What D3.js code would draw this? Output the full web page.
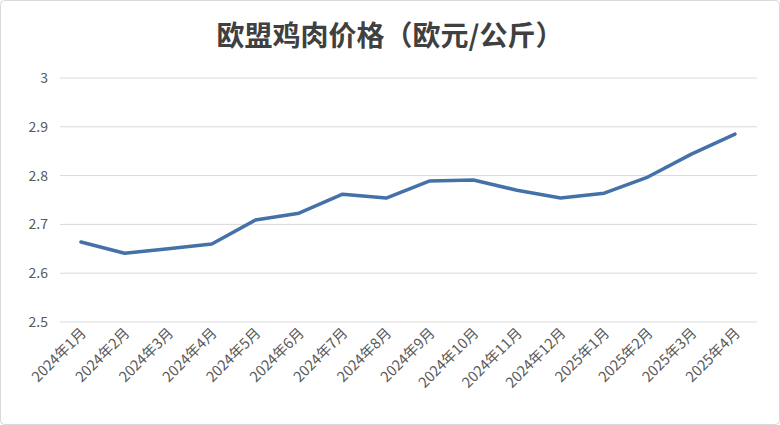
<!DOCTYPE html>
<html><head><meta charset="utf-8">
<script src="https://cdn.jsdelivr.net/npm/d3@7"></script>
<style>body{margin:0;background:#fff}svg{font-family:"Noto Sans CJK SC","Noto Sans",sans-serif}</style>
</head><body><svg width="780" height="425"></svg>
<script>
const categories=["2024年1月","2024年2月","2024年3月","2024年4月","2024年5月","2024年6月","2024年7月","2024年8月","2024年9月","2024年10月","2024年11月","2024年12月","2025年1月","2025年2月","2025年3月","2025年4月"];
const values=[2.664,2.641,2.650,2.660,2.709,2.723,2.762,2.754,2.789,2.791,2.770,2.754,2.764,2.797,2.844,2.885];
const yTicks=[2.5,2.6,2.7,2.8,2.9,3];
const svg=d3.select("svg");
svg.append("rect").attr("x",0.5).attr("y",0.5).attr("width",779).attr("height",424).attr("rx",4).attr("fill","#fff").attr("stroke","#d9d9d9");
svg.append("text").attr("x",390).attr("y",46).attr("text-anchor","middle").attr("font-size",28).attr("font-weight","bold").attr("fill","#404040").text("欧盟鸡肉价格（欧元/公斤）");
const x=d3.scalePoint().domain(categories).range([81,735]);
const y=d3.scaleLinear().domain([2.5,3]).range([322,78]);
svg.append("g").selectAll("line").data(yTicks).join("line").attr("x1",60).attr("x2",757).attr("y1",d=>y(d)).attr("y2",d=>y(d)).attr("stroke","#d9d9d9");
svg.append("g").selectAll("text").data(yTicks).join("text").attr("x",48).attr("y",d=>y(d)+5).attr("text-anchor","end").attr("font-size",14).attr("fill","#595959").text(d=>d3.format("")(d));
svg.append("g").selectAll("text").data(categories).join("text").attr("transform",d=>`translate(${x(d)+6},${334}) rotate(-45)`).attr("text-anchor","end").attr("font-size",14.5).attr("fill","#595959").text(d=>d);
svg.append("path").datum(values).attr("fill","none").attr("stroke","#4472a8").attr("stroke-width",3.5).attr("stroke-linejoin","round").attr("stroke-linecap","round")
 .attr("d",d3.line().x((d,i)=>x(categories[i])).y(d=>y(d)));
</script></body></html>
